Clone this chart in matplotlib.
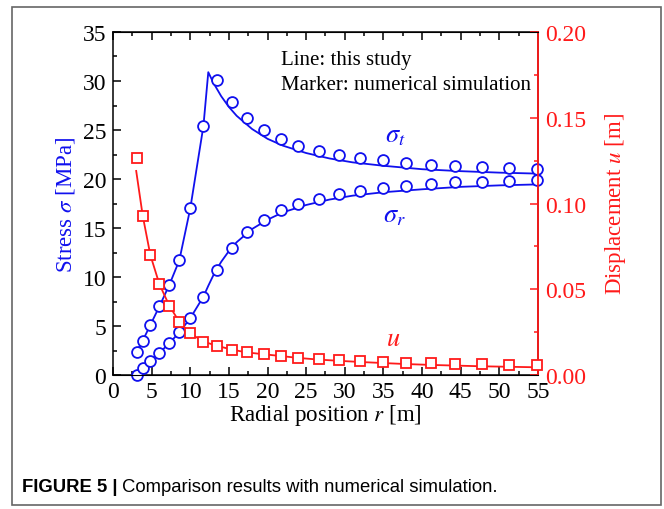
import matplotlib
matplotlib.use("Agg")
import matplotlib.pyplot as plt
from matplotlib.patches import Rectangle
from matplotlib.ticker import MultipleLocator, FormatStrFormatter

plt.rcParams['font.family'] = ['Liberation Serif', 'DejaVu Serif']
plt.rcParams['mathtext.fontset'] = 'stix'

BLUE = '#1010ee'
RED = '#ff1a1a'

# marker data (numerical simulation)
r_sim = [3.06, 3.84, 4.83, 6.0, 7.29, 8.58, 10.0, 11.7, 13.4, 15.4, 17.3, 19.5,
         21.7, 23.9, 26.6, 29.2, 32.0, 34.9, 37.9, 41.1, 44.3, 47.7, 51.3, 54.9]
st_sim = [2.3, 3.5, 5.1, 7.0, 9.2, 11.7, 17.0, 25.4, 30.1, 27.9, 26.2, 25.0,
          24.1, 23.4, 22.9, 22.45, 22.1, 21.9, 21.6, 21.45, 21.35, 21.25, 21.1, 21.0]
sr_sim = [0.0, 0.7, 1.4, 2.25, 3.25, 4.35, 5.8, 8.0, 10.7, 13.0, 14.6, 15.8,
          16.8, 17.5, 17.95, 18.45, 18.8, 19.05, 19.3, 19.5, 19.65, 19.65, 19.8, 19.85]
u_sim = [0.1264, 0.0929, 0.0700, 0.0531, 0.0404, 0.0311, 0.0245, 0.0194, 0.0171,
         0.0148, 0.0132, 0.0122, 0.0113, 0.0101, 0.0091, 0.0086, 0.0080, 0.0074,
         0.0072, 0.0068, 0.0066, 0.0062, 0.0060, 0.0058]

# line data (this study)
r_line_s = [3.0, 3.84, 4.83, 6.0, 7.29, 8.58, 10.0, 11.7, 12.33, 13.0, 14.0, 15.0,
            16.0, 18.0, 20.0, 22.0, 25.0, 28.0, 31.0, 35.0, 40.0, 45.0, 50.0, 55.0]
st_line = [2.3, 3.5, 5.1, 7.0, 9.2, 11.7, 17.0, 25.4, 30.9, 29.8, 28.45, 27.35,
           26.45, 25.1, 24.1, 23.4, 22.65, 22.1, 21.7, 21.35, 21.0, 20.8, 20.65, 20.55]
sr_line = [0.0, 0.7, 1.4, 2.25, 3.25, 4.35, 5.8, 8.0, 9.1, 10.2, 11.55, 12.65,
           13.55, 14.9, 15.85, 16.6, 17.35, 17.9, 18.3, 18.65, 18.95, 19.2, 19.35, 19.45]
r_line_u = [3.0, 3.84, 4.83, 6.0, 7.29, 8.58, 10.0, 11.7, 13.4, 15.4, 17.3, 19.5,
            21.7, 23.9, 26.6, 29.2, 32.0, 34.9, 37.9, 41.1, 44.3, 47.7, 51.3, 55.0]
u_line = [0.119, 0.093, 0.070, 0.053, 0.0404, 0.031, 0.0243, 0.0195, 0.0171, 0.0148,
          0.0132, 0.0121, 0.0111, 0.0100, 0.0090, 0.0083, 0.0076, 0.0070, 0.0064,
          0.0059, 0.0055, 0.0051, 0.0048, 0.0045]

fig = plt.figure(figsize=(6.64, 5.10), dpi=100)
ax = fig.add_axes([0.1702, 0.2627, 0.640, 0.6726])
ax2 = ax.twinx()

# stress
ax.plot(r_line_s, st_line, color=BLUE, lw=1.3, zorder=2)
ax.plot(r_line_s, sr_line, color=BLUE, lw=1.3, zorder=2)
ax.plot(r_sim, st_sim, 'o', ms=7.8, mfc='white', mec=BLUE, mew=1.3, zorder=3, clip_on=False)
ax.plot(r_sim, sr_sim, 'o', ms=7.8, mfc='white', mec=BLUE, mew=1.3, zorder=3, clip_on=False)

# displacement
ax2.plot(r_line_u, u_line, color=RED, lw=1.3, zorder=2)
ax2.plot(r_sim, u_sim, 's', ms=7.2, mfc='white', mec=RED, mew=1.3, zorder=3, clip_on=False)

ax.set_xlim(0, 55)
ax.set_ylim(0, 35)
ax2.set_ylim(0, 0.20)

ax.xaxis.set_major_locator(MultipleLocator(5))
ax.xaxis.set_minor_locator(MultipleLocator(2.5))
ax.yaxis.set_major_locator(MultipleLocator(5))
ax.yaxis.set_minor_locator(MultipleLocator(2.5))
ax2.yaxis.set_major_locator(MultipleLocator(0.05))
ax2.yaxis.set_minor_locator(MultipleLocator(0.025))
ax2.yaxis.set_major_formatter(FormatStrFormatter('%.2f'))

ax.tick_params(which='both', direction='in', top=True, right=False, labelsize=17, width=1.1)
ax.tick_params(which='major', length=6)
ax.tick_params(which='minor', length=3)
ax.tick_params(axis='x', pad=4)
ax.tick_params(axis='y', pad=5)
ax2.tick_params(which='both', direction='in', colors=RED, labelsize=17, width=1.1, pad=5)
ax2.tick_params(which='major', length=6)
ax2.tick_params(which='minor', length=3)

for sp in ax.spines.values():
    sp.set_linewidth(1.1)
ax2.spines['right'].set_color(RED)
ax2.spines['right'].set_linewidth(1.3)
ax2.spines['left'].set_visible(False)

ax.set_xlabel('Radial position $r$ [m]', fontsize=16.5, labelpad=0)
ax.set_ylabel(r'Stress $\sigma$ [MPa]', fontsize=16.5, color=BLUE, labelpad=4)
ax2.set_ylabel('Displacement $u$ [m]', fontsize=16.5, color=RED, labelpad=12)

ax.text(0.395, 0.921, 'Line: this study', transform=ax.transAxes, fontsize=15, va='center')
ax.text(0.395, 0.848, 'Marker: numerical simulation', transform=ax.transAxes, fontsize=15, va='center')
ax.text(35.2, 24.4, r'$\sigma_t$', color=BLUE, fontsize=19, ha='left', va='center')
ax.text(35.0, 16.2, r'$\sigma_r$', color=BLUE, fontsize=19, ha='left', va='center')
ax.text(35.3, 3.7, '$u$', color=RED, fontsize=19, ha='left', va='center')

# figure frame and caption
fig.patches.append(Rectangle((12 / 664, 4 / 510), 649 / 664, 498 / 510, transform=fig.transFigure,
                             fill=False, edgecolor='#666666', lw=1.2))
t1 = fig.text(22 / 664, 1 - 487 / 510, 'FIGURE 5 |', family='Liberation Sans',
              fontweight='bold', fontsize=13.3, va='center')
fig.canvas.draw()
bb = t1.get_window_extent()
fig.text(bb.x1 / 664 + 4 / 664, 1 - 487 / 510, 'Comparison results with numerical simulation.',
         family='Liberation Sans', fontsize=13.3, va='center')

fig.savefig('out.png', dpi=100)
